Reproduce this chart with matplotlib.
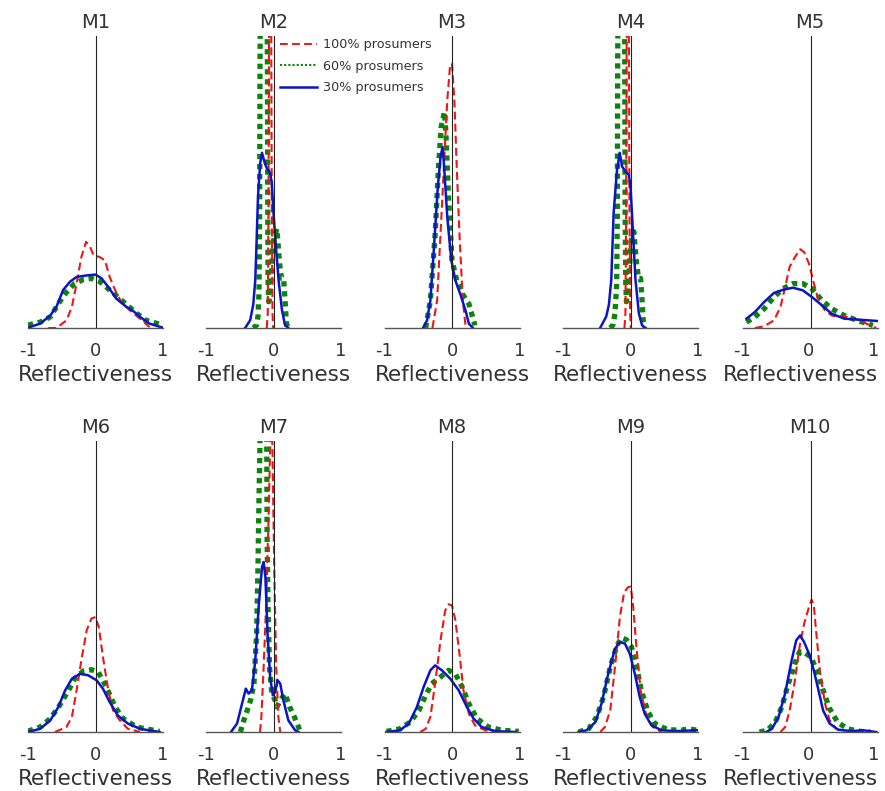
import matplotlib as mpl
import matplotlib.pyplot as plt
from matplotlib.lines import Line2D

mpl.rcParams['font.family'] = ['DejaVu Sans']

# curves; y is the fraction of the panel height
titles = ['M1', 'M2', 'M3', 'M4', 'M5', 'M6', 'M7', 'M8', 'M9', 'M10']
series_labels = ['100% prosumers', '60% prosumers', '30% prosumers']
tick_values = [-1, 0, 1]
tick_labels = ['-1', '0', '1']
zero_line = [0, 0, 0, 0, 0.05, 0, 0, 0, 0, 0.05]

m1_red_x = [-0.70, -0.58, -0.43, -0.35, -0.28, -0.21, -0.14, -0.08, -0.03, 0.06, 0.14, 0.21, 0.29, 0.38, 0.51, 0.66, 0.80]
m1_red_y = [0.0, 0.0, 0.026, 0.072, 0.152, 0.243, 0.295, 0.278, 0.25, 0.243, 0.232, 0.175, 0.13, 0.09, 0.06, 0.032, 0.003]
m1_green_x = [-1.0, -0.82, -0.67, -0.53, -0.43, -0.31, -0.18, -0.06, 0.06, 0.21, 0.33, 0.46, 0.61, 0.75, 1.0]
m1_green_y = [0.01, 0.02, 0.038, 0.09, 0.123, 0.152, 0.166, 0.17, 0.16, 0.13, 0.106, 0.08, 0.05, 0.026, 0.01]
m1_blue_x = [-1.0, -0.82, -0.67, -0.58, -0.48, -0.38, -0.28, -0.13, 0.0, 0.09, 0.19, 0.31, 0.46, 0.56, 0.66, 0.80, 1.0]
m1_blue_y = [0.001, 0.015, 0.043, 0.072, 0.13, 0.158, 0.175, 0.18, 0.183, 0.17, 0.14, 0.10, 0.072, 0.058, 0.038, 0.015, 0.001]

m2_red_x = [-0.10, -0.085, -0.075, -0.065, -0.05, -0.035, -0.025, -0.015, -0.005]
m2_red_y = [0.0, 0.05, 0.4, 1.1, 1.5, 1.1, 0.4, 0.05, 0.0]
m2_green_x = [-0.30, -0.25, -0.23, -0.215, -0.205, -0.2, -0.19, -0.145, -0.10, -0.09, -0.085, -0.08, -0.07, -0.04, 0.0, 0.05, 0.09, 0.12, 0.15, 0.17, 0.19, 0.21]
m2_green_y = [0.0, 0.01, 0.04, 0.12, 0.4, 0.9, 1.3, 1.5, 1.3, 0.9, 0.4, 0.15, 0.09, 0.15, 0.3, 0.34, 0.22, 0.17, 0.17, 0.1, 0.02, 0.0]
m2_blue_x = [-0.42, -0.345, -0.30, -0.27, -0.25, -0.23, -0.197, -0.17, -0.13, -0.10, -0.05, -0.025, 0.0, 0.035, 0.075, 0.125, 0.17, 0.22]
m2_blue_y = [0.0, 0.027, 0.08, 0.164, 0.3, 0.45, 0.565, 0.6, 0.565, 0.548, 0.53, 0.497, 0.394, 0.28, 0.164, 0.062, 0.01, 0.0]

m3_red_x = [-0.29, -0.22, -0.17, -0.12, -0.07, -0.03, 0.0, 0.035, 0.07, 0.11, 0.16, 0.2]
m3_red_y = [0.0, 0.095, 0.323, 0.552, 0.78, 0.895, 0.906, 0.78, 0.552, 0.323, 0.095, 0.009]
m3_green_x = [-0.39, -0.32, -0.25, -0.2, -0.16, -0.11, -0.09, -0.05, 0.0, 0.07, 0.15, 0.25, 0.34]
m3_green_y = [0.0, 0.095, 0.32, 0.55, 0.69, 0.74, 0.666, 0.44, 0.232, 0.163, 0.118, 0.083, 0.009]
m3_blue_x = [-0.43, -0.37, -0.32, -0.27, -0.21, -0.17, -0.14, -0.12, -0.07, -0.01, 0.05, 0.12, 0.2, 0.25, 0.31]
m3_blue_y = [0.0, 0.026, 0.095, 0.266, 0.483, 0.586, 0.62, 0.563, 0.38, 0.232, 0.163, 0.118, 0.06, 0.015, 0.0]

m4_red_x = [-0.09, -0.075, -0.065, -0.055, -0.04, -0.025, -0.015, -0.005, 0.005]
m4_red_y = [0.0, 0.05, 0.4, 1.1, 1.5, 1.1, 0.4, 0.05, 0.0]
m4_green_x = [-0.30, -0.26, -0.23, -0.205, -0.195, -0.19, -0.18, -0.135, -0.09, -0.085, -0.08, -0.07, -0.06, -0.03, 0.01, 0.05, 0.09, 0.12, 0.15, 0.17, 0.19, 0.21]
m4_green_y = [0.0, 0.01, 0.05, 0.15, 0.4, 0.9, 1.3, 1.5, 1.3, 0.9, 0.4, 0.15, 0.09, 0.15, 0.3, 0.33, 0.22, 0.17, 0.17, 0.1, 0.02, 0.0]
m4_blue_x = [-0.45, -0.36, -0.32, -0.285, -0.25, -0.2, -0.16, -0.125, -0.074, -0.025, 0.0, 0.035, 0.074, 0.124, 0.17, 0.22]
m4_blue_y = [0.0, 0.039, 0.08, 0.164, 0.394, 0.541, 0.6, 0.553, 0.536, 0.525, 0.485, 0.336, 0.164, 0.05, 0.01, 0.0]

m5_red_x = [-0.81, -0.67, -0.52, -0.42, -0.35, -0.28, -0.2, -0.12, -0.06, 0.015, 0.09, 0.16, 0.26, 0.36, 0.45, 0.6, 0.75, 0.89, 1.04]
m5_red_y = [0.0, 0.006, 0.026, 0.072, 0.14, 0.21, 0.243, 0.27, 0.26, 0.22, 0.152, 0.095, 0.06, 0.043, 0.038, 0.038, 0.029, 0.015, 0.0]
m5_green_x = [-0.94, -0.81, -0.67, -0.52, -0.38, -0.23, -0.08, 0.06, 0.21, 0.36, 0.55, 0.75, 0.99]
m5_green_y = [0.02, 0.038, 0.066, 0.106, 0.135, 0.152, 0.152, 0.135, 0.095, 0.066, 0.043, 0.026, 0.009]
m5_blue_x = [-0.94, -0.81, -0.67, -0.52, -0.38, -0.23, -0.08, 0.06, 0.21, 0.36, 0.55, 0.75, 1.06]
m5_blue_y = [0.032, 0.055, 0.089, 0.12, 0.131, 0.138, 0.129, 0.106, 0.078, 0.049, 0.032, 0.029, 0.024]

m6_red_x = [-0.6, -0.43, -0.35, -0.28, -0.21, -0.13, -0.06, 0.0, 0.05, 0.11, 0.19, 0.26, 0.36, 0.48, 0.66]
m6_red_y = [0.0, 0.017, 0.052, 0.143, 0.246, 0.35, 0.39, 0.395, 0.36, 0.258, 0.143, 0.074, 0.04, 0.011, 0.0]
m6_green_x = [-1.0, -0.82, -0.67, -0.53, -0.4, -0.31, -0.18, -0.06, 0.04, 0.16, 0.29, 0.41, 0.61, 0.95]
m6_green_y = [0.003, 0.017, 0.046, 0.092, 0.143, 0.183, 0.21, 0.214, 0.206, 0.155, 0.086, 0.046, 0.017, 0.002]
m6_blue_x = [-1.0, -0.82, -0.67, -0.55, -0.45, -0.35, -0.23, -0.11, 0.015, 0.11, 0.21, 0.33, 0.48, 0.66, 0.95]
m6_blue_y = [0.0, 0.011, 0.04, 0.086, 0.143, 0.183, 0.2, 0.195, 0.178, 0.149, 0.103, 0.057, 0.029, 0.011, 0.0]

m7_red_x = [-0.2, -0.18, -0.146, -0.107, -0.073, -0.05, -0.03, -0.015, 0.01, 0.04, 0.073, 0.1]
m7_red_y = [0.0, 0.05, 0.223, 0.45, 0.74, 0.97, 1.15, 0.97, 0.57, 0.223, 0.05, 0.0]
m7_green_x = [-0.49, -0.44, -0.39, -0.34, -0.29, -0.25, -0.23, -0.215, -0.2, -0.15, -0.1, -0.095, -0.083, -0.06, -0.024, 0.024, 0.05, 0.1, 0.17, 0.24, 0.32, 0.39]
m7_green_y = [0.0, 0.04, 0.074, 0.109, 0.166, 0.338, 0.567, 0.796, 1.0, 1.4, 1.0, 0.68, 0.45, 0.223, 0.132, 0.109, 0.086, 0.109, 0.132, 0.086, 0.046, 0.006]
m7_blue_x = [-0.63, -0.54, -0.46, -0.41, -0.37, -0.32, -0.27, -0.22, -0.17, -0.146, -0.12, -0.088, -0.05, -0.01, 0.024, 0.06, 0.1, 0.146, 0.22, 0.32, 0.37]
m7_blue_y = [0.0, 0.029, 0.103, 0.149, 0.132, 0.143, 0.246, 0.43, 0.567, 0.584, 0.533, 0.338, 0.189, 0.126, 0.137, 0.178, 0.166, 0.109, 0.04, 0.006, 0.0]

m8_red_x = [-0.47, -0.39, -0.32, -0.25, -0.17, -0.1, -0.05, 0.0, 0.05, 0.11, 0.17, 0.25, 0.34, 0.49, 0.64]
m8_red_y = [0.0, 0.011, 0.052, 0.166, 0.315, 0.418, 0.439, 0.435, 0.384, 0.27, 0.143, 0.063, 0.023, 0.006, 0.0]
m8_green_x = [-0.97, -0.77, -0.62, -0.49, -0.39, -0.3, -0.17, -0.05, 0.05, 0.15, 0.25, 0.37, 0.54, 0.74, 0.99]
m8_green_y = [0.002, 0.011, 0.034, 0.074, 0.126, 0.166, 0.189, 0.212, 0.2, 0.155, 0.097, 0.046, 0.017, 0.006, 0.002]
m8_blue_x = [-0.97, -0.77, -0.64, -0.52, -0.42, -0.32, -0.25, -0.15, -0.025, 0.1, 0.22, 0.32, 0.44, 0.64, 0.94]
m8_blue_y = [0.0, 0.006, 0.029, 0.086, 0.155, 0.212, 0.229, 0.212, 0.183, 0.143, 0.086, 0.046, 0.017, 0.003, 0.0]

m9_red_x = [-0.45, -0.38, -0.3, -0.23, -0.157, -0.093, -0.034, 0.005, 0.04, 0.088, 0.15, 0.235, 0.33, 0.46]
m9_red_y = [0.0, 0.017, 0.074, 0.223, 0.395, 0.481, 0.498, 0.5, 0.43, 0.292, 0.143, 0.057, 0.017, 0.0]
m9_green_x = [-0.77, -0.62, -0.5, -0.4, -0.3, -0.2, -0.13, -0.06, 0.015, 0.09, 0.16, 0.26, 0.36, 0.55, 0.75, 0.85, 1.0]
m9_green_y = [0.0, 0.011, 0.052, 0.12, 0.223, 0.298, 0.324, 0.317, 0.292, 0.223, 0.143, 0.069, 0.029, 0.008, 0.006, 0.011, 0.006]
m9_blue_x = [-0.77, -0.65, -0.52, -0.43, -0.33, -0.23, -0.157, -0.083, -0.01, 0.064, 0.137, 0.21, 0.31, 0.46, 0.66, 1.0]
m9_blue_y = [0.0, 0.006, 0.034, 0.097, 0.2, 0.286, 0.309, 0.304, 0.269, 0.2, 0.12, 0.063, 0.023, 0.006, 0.003, 0.006]

m10_red_x = [-0.42, -0.35, -0.28, -0.2, -0.13, -0.06, 0.015, 0.054, 0.088, 0.127, 0.185, 0.26, 0.33, 0.43, 0.55]
m10_red_y = [0.0, 0.017, 0.074, 0.178, 0.292, 0.372, 0.43, 0.455, 0.435, 0.338, 0.2, 0.097, 0.04, 0.011, 0.0]
m10_green_x = [-0.74, -0.62, -0.5, -0.4, -0.3, -0.2, -0.13, -0.06, 0.04, 0.137, 0.23, 0.33, 0.45, 0.6, 0.8, 0.95]
m10_green_y = [0.0, 0.006, 0.034, 0.086, 0.166, 0.235, 0.275, 0.275, 0.258, 0.212, 0.143, 0.08, 0.034, 0.011, 0.002, 0.0]
m10_blue_x = [-0.64, -0.55, -0.45, -0.35, -0.25, -0.18, -0.12, -0.06, 0.015, 0.088, 0.16, 0.23, 0.33, 0.46, 0.66, 0.84, 1.04]
m10_blue_y = [0.0, 0.011, 0.052, 0.132, 0.246, 0.315, 0.332, 0.309, 0.269, 0.212, 0.143, 0.074, 0.029, 0.008, 0.003, 0.006, 0.0]

panels = [
    (m1_red_x, m1_red_y, m1_green_x, m1_green_y, m1_blue_x, m1_blue_y),
    (m2_red_x, m2_red_y, m2_green_x, m2_green_y, m2_blue_x, m2_blue_y),
    (m3_red_x, m3_red_y, m3_green_x, m3_green_y, m3_blue_x, m3_blue_y),
    (m4_red_x, m4_red_y, m4_green_x, m4_green_y, m4_blue_x, m4_blue_y),
    (m5_red_x, m5_red_y, m5_green_x, m5_green_y, m5_blue_x, m5_blue_y),
    (m6_red_x, m6_red_y, m6_green_x, m6_green_y, m6_blue_x, m6_blue_y),
    (m7_red_x, m7_red_y, m7_green_x, m7_green_y, m7_blue_x, m7_blue_y),
    (m8_red_x, m8_red_y, m8_green_x, m8_green_y, m8_blue_x, m8_blue_y),
    (m9_red_x, m9_red_y, m9_green_x, m9_green_y, m9_blue_x, m9_blue_y),
    (m10_red_x, m10_red_y, m10_green_x, m10_green_y, m10_blue_x, m10_blue_y),
]

RED = '#f01414'
GREEN = '#0a840a'
BLUE = '#0a14c8'
TXT = '#333333'

W, H = 885, 791
fig = plt.figure(figsize=(W / 100, H / 100), dpi=100)

col_left = [28, 206, 384.5, 563, 742.5]
row_bottom = [328, 732]
row_height = [292, 291]

for i in range(10):
    r, c = divmod(i, 5)
    ax = fig.add_axes([col_left[c] / W, 1 - row_bottom[r] / H, 135 / W, row_height[r] / H])
    rx, ry, gx, gy, bx, by = panels[i]
    ax.plot(gx, gy, color=GREEN, lw=3.8, ls=(0, (1, 0.9)), dash_capstyle='butt')
    ax.plot(rx, ry, color=RED, lw=1.5, ls=(0, (3.8, 2)))
    ax.plot(bx, by, color=BLUE, lw=1.8)
    ax.axvline(zero_line[i], color='#222222', lw=0.8)
    if c == 4:
        ax.set_xlim(-0.94, 1.06)
    else:
        ax.set_xlim(-1, 1)
    ax.set_ylim(0, 1)
    ax.set_xticks(tick_values)
    ax.set_xticklabels(tick_labels)
    ax.set_yticks([])
    for s in ['left', 'right', 'top']:
        ax.spines[s].set_visible(False)
    ax.spines['bottom'].set_color('#555555')
    ax.spines['bottom'].set_linewidth(1.0)
    ax.tick_params(axis='x', length=0, pad=10, labelsize=13, labelcolor=TXT)
    ax.set_xlabel('Reflectiveness', fontsize=15.5, color=TXT)
    ax.xaxis.set_label_coords(0.43 if c == 4 else 0.5, -0.127)
    ax.set_title(titles[i], fontsize=14, color=TXT, pad=6)

handles = [
    Line2D([], [], color=RED, lw=1.4, ls=(0, (4, 2.2))),
    Line2D([], [], color=GREEN, lw=1.5, ls=(0, (1, 1))),
    Line2D([], [], color=BLUE, lw=1.8),
]
fig.legend(handles, series_labels, loc='upper left', bbox_to_anchor=(280 / W, 1 - 38 / H),
           frameon=False, fontsize=9.2, labelcolor=TXT, handlelength=2.9, handletextpad=0.45,
           labelspacing=0.68, borderpad=0, borderaxespad=0)

fig.savefig('out.png', dpi=100)
